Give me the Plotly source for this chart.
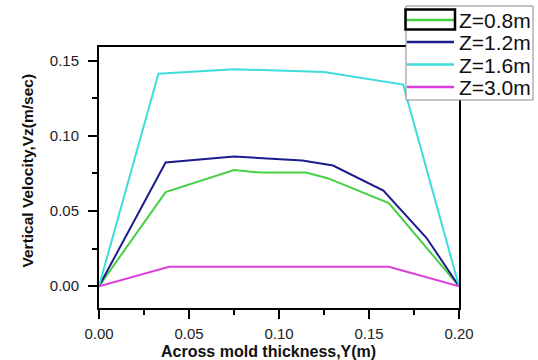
import plotly.graph_objects as go

# Velocity profiles across the mould thickness at four heights
series_names = ["Z=0.8m", "Z=1.2m", "Z=1.6m", "Z=3.0m"]
series_colors = ["#46d046", "#1c1c8e", "#3fdcdc", "#dc3fdc"]

y_z08 = [0.0, 0.037, 0.075, 0.09, 0.115, 0.127, 0.161, 0.2]
vz_z08 = [0.0, 0.0625, 0.0772, 0.0755, 0.0755, 0.0718, 0.0552, 0.0]

y_z12 = [0.0, 0.037, 0.075, 0.113, 0.13, 0.158, 0.182, 0.2]
vz_z12 = [0.0, 0.0822, 0.0862, 0.0835, 0.0802, 0.0636, 0.032, 0.0]

y_z16 = [0.0, 0.033, 0.075, 0.125, 0.169, 0.2]
vz_z16 = [0.0, 0.1413, 0.1442, 0.1424, 0.134, 0.0]

y_z30 = [0.0, 0.039, 0.1, 0.161, 0.2]
vz_z30 = [0.0, 0.0129, 0.0129, 0.0129, 0.0]

x_ticks = [0.0, 0.05, 0.10, 0.15, 0.20]
y_ticks = [0.0, 0.05, 0.10, 0.15]

W, H = 538, 360
ML, MR, MT, MB = 99, 79, 47, 52
PW, PH = W - ML - MR, H - MT - MB
FONT = "Liberation Sans, Arial, sans-serif"


def px(x):
    return (x - ML) / PW


def py(y):
    return (H - MB - y) / PH


fig = go.Figure()
for xs, vs, name, col in zip(
    [y_z08, y_z12, y_z16, y_z30],
    [vz_z08, vz_z12, vz_z16, vz_z30],
    series_names, series_colors,
):
    fig.add_trace(go.Scatter(x=xs, y=vs, mode="lines", name=name,
                             line=dict(color=col, width=2), showlegend=False))

axis_common = dict(
    showline=True, linecolor="black", linewidth=2, mirror=True,
    ticks="outside", ticklen=9, tickwidth=2, tickcolor="black",
    showgrid=False, zeroline=False,
    tickfont=dict(family=FONT, size=15, color="#222"),
)
fig.update_xaxes(range=[0, 0.2], tickvals=x_ticks, tickformat=".2f",
                 ticklabelstandoff=2,
                 minor=dict(ticks="outside", ticklen=5, tickwidth=2,
                            tickcolor="black", dtick=0.025, tick0=0),
                 **axis_common)
fig.update_yaxes(range=[-0.0145, 0.159], tickvals=y_ticks, tickformat=".2f",
                 ticklabelstandoff=6,
                 minor=dict(ticks="outside", ticklen=5, tickwidth=2,
                            tickcolor="black", dtick=0.025, tick0=0),
                 **axis_common)

shapes = []
annotations = []

# Legend box drawn over the upper-right corner of the frame
shapes.append(dict(type="rect", xref="paper", yref="paper", layer="above",
                   x0=px(406), x1=px(533), y0=py(100), y1=py(6),
                   fillcolor="white", line=dict(color="#8a8a8a", width=1)))
row_y = [20, 42, 64.5, 87]
for name, col, ry in zip(series_names, series_colors, row_y):
    shapes.append(dict(type="line", xref="paper", yref="paper", layer="above",
                       x0=px(407), x1=px(454), y0=py(ry), y1=py(ry),
                       line=dict(color=col, width=2.5)))
    annotations.append(dict(text=name, xref="paper", yref="paper",
                            x=px(457), y=py(ry + 0.5), xanchor="left",
                            yanchor="middle", showarrow=False,
                            font=dict(family=FONT, size=21, color="#111")))
# Highlight frame around the first legend sample
shapes.append(dict(type="rect", xref="paper", yref="paper", layer="above",
                   x0=px(405.5), x1=px(455), y0=py(29.5), y1=py(9.5),
                   line=dict(color="black", width=2.5)))

annotations.append(dict(text="<b>Across mold thickness,Y(m)</b>",
                        xref="paper", yref="paper", x=px(268), y=py(351),
                        xanchor="center", yanchor="middle", showarrow=False,
                        font=dict(family=FONT, size=16, color="#111")))
annotations.append(dict(text="<b>Vertical Velocity,Vz(m/sec)</b>",
                        xref="paper", yref="paper", x=px(26.5), y=py(171),
                        xanchor="center", yanchor="middle", showarrow=False,
                        textangle=-90,
                        font=dict(family=FONT, size=15.5, color="#111")))

fig.update_layout(
    width=W, height=H,
    margin=dict(l=ML, r=MR, t=MT, b=MB),
    paper_bgcolor="white", plot_bgcolor="white",
    shapes=shapes, annotations=annotations,
)

fig.write_html("out.html")
